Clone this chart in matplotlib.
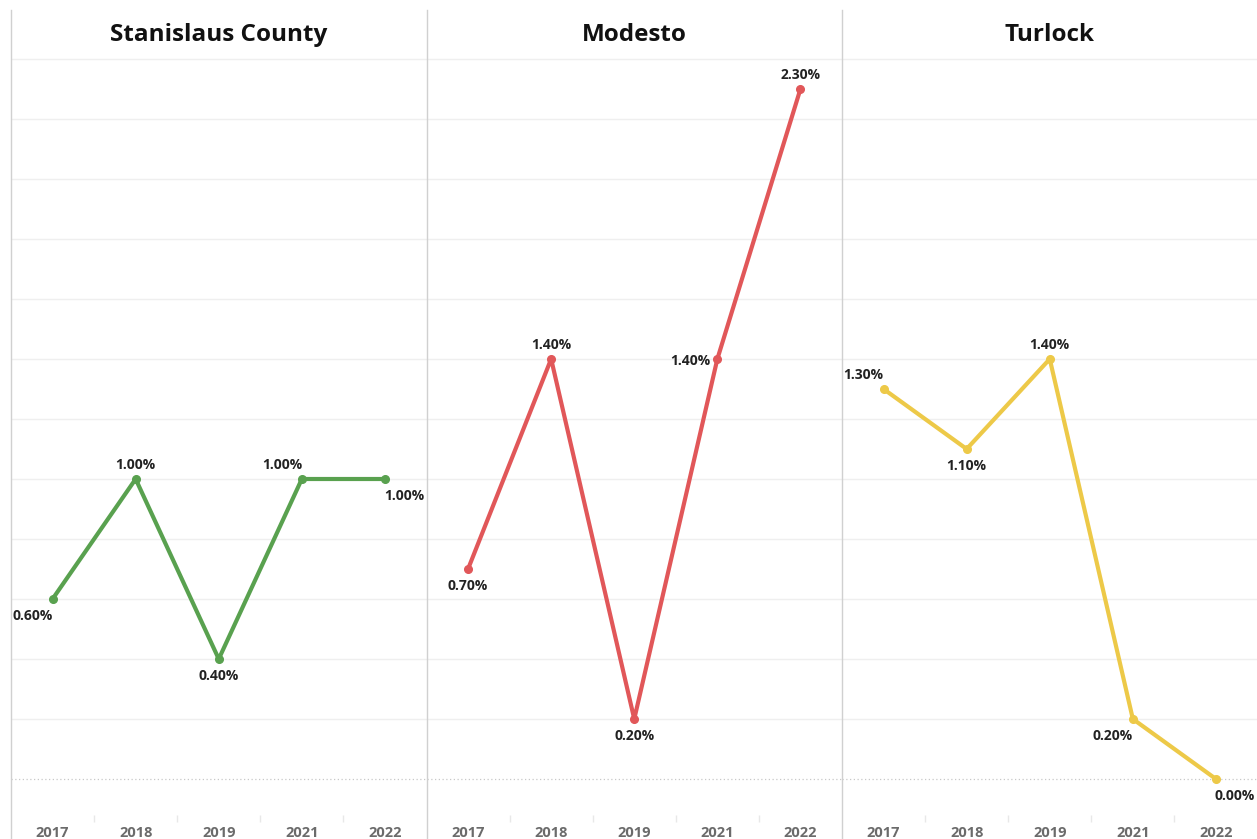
import matplotlib.pyplot as plt
from matplotlib.lines import Line2D

plt.rcParams['font.family'] = ['Open Sans', 'DejaVu Sans']

years = ['2017', '2018', '2019', '2021', '2022']
places = ['Stanislaus County', 'Modesto', 'Turlock']
stanislaus = [0.6, 1.0, 0.4, 1.0, 1.0]
modesto = [0.7, 1.4, 0.2, 1.4, 2.3]
turlock = [1.3, 1.1, 1.4, 0.2, 0.0]
series = [stanislaus, modesto, turlock]
colors = ['#59a14f', '#e15759', '#edc948']

# where each value label sits relative to its point (pixels)
spots = {'above': (0, 14), 'below': (0, -17), 'above_left': (-20, 14),
         'below_left': (-20, -17), 'below_right': (19, -17), 'left': (-27, -2)}
label_spots = [
    ['below_left', 'above', 'below', 'above_left', 'below_right'],
    ['below', 'above', 'below', 'left', 'above'],
    ['above_left', 'below', 'above', 'below_left', 'below_right'],
]

W, H = 1257, 839
fig = plt.figure(figsize=(W / 100, H / 100), dpi=100)

left, pane_w = 11, 415.5
top, bottom = 58, 815
grid_c = '#efefef'
edge_c = '#d0d0d0'

for i, (vals, col) in enumerate(zip(series, colors)):
    x0 = left + i * pane_w
    ax = fig.add_axes([x0 / W, 1 - bottom / H, pane_w / W, (bottom - top) / H])
    ax.set_xlim(-0.5, 4.5)
    ax.set_ylim(-0.12, (779 - top) / 300)
    for s in ax.spines.values():
        s.set_visible(False)
    for g in [0.2 * k for k in range(1, 13)]:
        ax.axhline(g, color=grid_c, lw=1, zorder=0)
    ax.axhline(0, color='#c8c8c8', lw=0.9, ls=(0, (1, 2)), zorder=0)

    xs = range(len(years))
    ax.plot(xs, vals, color=col, lw=3, marker='o', ms=5.5, solid_capstyle='round', zorder=3)
    for x, v, sp in zip(xs, vals, label_spots[i]):
        dx, dy = spots[sp]
        ax.annotate(f'{v:.2f}%', (x, v), xytext=(dx, dy), textcoords='offset pixels',
                    ha='center', va='center', fontsize=10, fontweight='bold',
                    color='#222222', zorder=4)

    ax.set_xticks(list(xs))
    ax.set_xticklabels(years, fontsize=10.5, fontweight='bold', color='#6b6b6b')
    ax.tick_params(axis='x', which='major', length=0, pad=8)
    ax.set_xticks([0.5, 1.5, 2.5, 3.5], minor=True)
    ax.tick_params(axis='x', which='minor', length=5, color='#e8e8e8', width=1)
    ax.set_yticks([])

    fig.text((x0 + pane_w / 2) / W, 1 - 35 / H, places[i], ha='center', va='center',
             fontsize=17.5, fontweight='bold', color='#111111')

# pane dividers
for i in range(3):
    xd = (left + i * pane_w) / W
    fig.add_artist(Line2D([xd, xd], [0, 1 - 10 / H], color=edge_c, lw=1))

fig.savefig('out.png', dpi=100)
